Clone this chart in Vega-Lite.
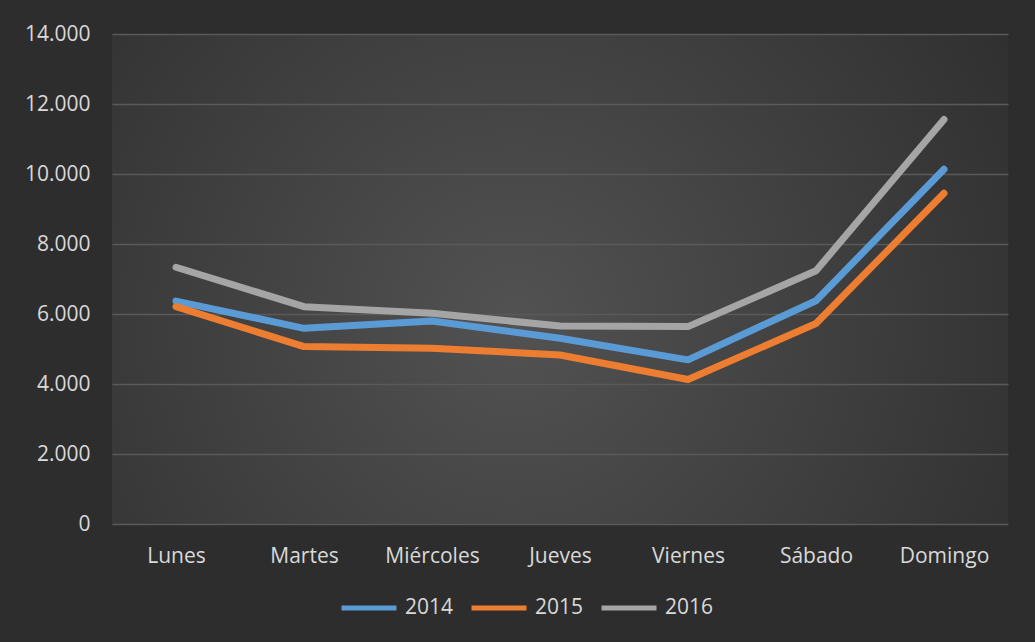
{
  "$schema": "https://vega.github.io/schema/vega-lite/v6.json",
  "width": 896,
  "height": 490,
  "autosize": {"type": "none"},
  "padding": {"left": 112, "top": 34, "right": 27, "bottom": 118},
  "background": "#2d2d2d",
  "view": {
    "stroke": null,
    "fill": {
      "gradient": "radial",
      "x1": 0.45, "y1": 0.55, "r1": 0,
      "x2": 0.45, "y2": 0.55, "r2": 0.75,
      "stops": [
        {"offset": 0, "color": "#525252"},
        {"offset": 0.55, "color": "#3c3c3c"},
        {"offset": 1, "color": "#2a2a2a"}
      ]
    }
  },
  "config": {
    "locale": {"number": {"decimal": ",", "thousands": ".", "grouping": [3], "currency": ["", " €"]}},
    "font": "Open Sans",
    "axis": {"labelFont": "Open Sans", "labelFontSize": 21, "labelColor": "#d9d9d9", "title": null}
  },
  "data": {
    "values": [
      {"day": "Lunes", "year": "2014", "value": 6370},
      {"day": "Martes", "year": "2014", "value": 5590},
      {"day": "Miércoles", "year": "2014", "value": 5800},
      {"day": "Jueves", "year": "2014", "value": 5305},
      {"day": "Viernes", "year": "2014", "value": 4690},
      {"day": "Sábado", "year": "2014", "value": 6380},
      {"day": "Domingo", "year": "2014", "value": 10135},
      {"day": "Lunes", "year": "2015", "value": 6210},
      {"day": "Martes", "year": "2015", "value": 5070},
      {"day": "Miércoles", "year": "2015", "value": 5020},
      {"day": "Jueves", "year": "2015", "value": 4830},
      {"day": "Viernes", "year": "2015", "value": 4130},
      {"day": "Sábado", "year": "2015", "value": 5730},
      {"day": "Domingo", "year": "2015", "value": 9450},
      {"day": "Lunes", "year": "2016", "value": 7335},
      {"day": "Martes", "year": "2016", "value": 6210},
      {"day": "Miércoles", "year": "2016", "value": 6020},
      {"day": "Jueves", "year": "2016", "value": 5655},
      {"day": "Viernes", "year": "2016", "value": 5640},
      {"day": "Sábado", "year": "2016", "value": 7235},
      {"day": "Domingo", "year": "2016", "value": 11560}
    ]
  },
  "mark": {"type": "line", "strokeWidth": 7, "strokeCap": "round", "strokeJoin": "round"},
  "encoding": {
    "x": {
      "field": "day", "type": "nominal",
      "sort": ["Lunes", "Martes", "Miércoles", "Jueves", "Viernes", "Sábado", "Domingo"],
      "scale": {"type": "point", "padding": 0.5},
      "axis": {"labelAngle": 0, "ticks": false, "domain": false, "grid": false, "labelPadding": 21}
    },
    "y": {
      "field": "value", "type": "quantitative",
      "scale": {"domain": [0, 14000], "nice": false},
      "axis": {"values": [0, 2000, 4000, 6000, 8000, 10000, 12000, 14000], "format": ",d", "ticks": false, "domain": false, "gridColor": "#5a5a5a", "gridWidth": 1.5, "labelPadding": 22}
    },
    "color": {
      "field": "year", "type": "nominal",
      "scale": {"domain": ["2014", "2015", "2016"], "range": ["#5b9bd5", "#ed7d31", "#a5a5a5"]},
      "legend": {
        "title": null, "orient": "none", "direction": "horizontal",
        "legendX": 227, "legendY": 544,
        "symbolType": "stroke", "symbolSize": 3025, "symbolStrokeWidth": 5,
        "labelFont": "Open Sans", "labelFontSize": 21, "labelColor": "#d9d9d9",
        "labelOffset": 6, "columnPadding": 7
      }
    }
  }
}
